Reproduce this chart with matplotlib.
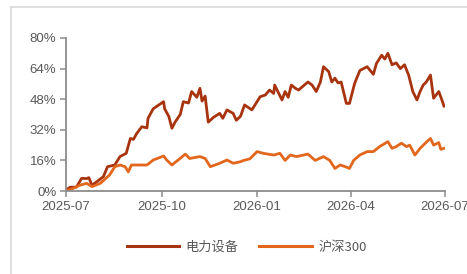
import matplotlib
matplotlib.use("Agg")
import matplotlib.pyplot as plt
import matplotlib.dates as mdates
from matplotlib.lines import Line2D
import pandas as pd

# ---- data ----
dates_a = ["2025-07-01","2025-07-05","2025-07-11","2025-07-16","2025-07-21","2025-07-23","2025-07-26",
           "2025-07-31","2025-08-06","2025-08-10","2025-08-17","2025-08-22","2025-08-28","2025-09-01",
           "2025-09-04","2025-09-07","2025-09-12","2025-09-17","2025-09-18","2025-09-23","2025-10-03",
           "2025-10-04","2025-10-08","2025-10-11","2025-10-14","2025-10-19","2025-10-22","2025-10-27",
           "2025-10-30","2025-11-04","2025-11-07","2025-11-09","2025-11-12","2025-11-15","2025-11-20",
           "2025-11-26","2025-11-29","2025-12-03","2025-12-09","2025-12-12","2025-12-16","2025-12-20",
           "2025-12-27","2026-01-04","2026-01-09","2026-01-13","2026-01-17","2026-01-18","2026-01-21",
           "2026-01-25","2026-01-28","2026-01-31","2026-02-03","2026-02-07","2026-02-10","2026-02-19",
           "2026-02-23","2026-02-27","2026-03-03","2026-03-06","2026-03-11","2026-03-14","2026-03-17",
           "2026-03-20","2026-03-23","2026-03-28","2026-03-31","2026-04-05","2026-04-10","2026-04-17",
           "2026-04-23","2026-04-26","2026-05-01","2026-05-04","2026-05-07","2026-05-11","2026-05-15",
           "2026-05-19","2026-05-23","2026-05-27","2026-05-31","2026-06-04","2026-06-07","2026-06-10",
           "2026-06-13","2026-06-17","2026-06-20","2026-06-25","2026-06-28","2026-06-30"]
power_equipment = [0.5, 2, 2, 6.6, 6.5, 7, 3,
                   5, 7.5, 12.7, 13.6, 18, 19.7, 27.5,
                   27, 30, 33.6, 33, 38, 43, 46.7,
                   43, 39, 32.8, 36, 40, 46.7, 46,
                   52, 49, 53.7, 47, 49.6, 36, 38.5,
                   40.6, 38, 42.4, 40.6, 37, 39, 45,
                   42.4, 49.3, 50.2, 52.8, 51, 55.4, 52,
                   47.6, 52, 49, 55.4, 53.7, 52.8, 57,
                   55.4, 52, 57, 65, 62.4, 57, 59,
                   56.5, 57, 45.8, 45.8, 56.3, 63, 65,
                   61, 66.7, 71, 69, 72, 66, 67,
                   64, 66, 60.6, 52, 47.6, 52, 55.4,
                   57, 60.6, 48.5, 52, 47.6, 44.4]

dates_b = ["2025-07-01","2025-07-08","2025-07-14","2025-07-21","2025-07-26","2025-08-03","2025-08-12",
           "2025-08-17","2025-08-22","2025-08-27","2025-08-30","2025-09-02","2025-09-10","2025-09-17",
           "2025-09-23","2025-10-03","2025-10-06","2025-10-11","2025-10-17","2025-10-24","2025-10-28",
           "2025-11-07","2025-11-12","2025-11-17","2025-11-26","2025-12-03","2025-12-09","2025-12-16",
           "2025-12-19","2025-12-25","2026-01-01","2026-01-07","2026-01-17","2026-01-23","2026-01-28",
           "2026-02-02","2026-02-08","2026-02-19","2026-02-26","2026-03-06","2026-03-12","2026-03-17",
           "2026-03-22","2026-03-27","2026-03-31","2026-04-04","2026-04-10","2026-04-17","2026-04-23",
           "2026-04-29","2026-05-07","2026-05-11","2026-05-15","2026-05-20","2026-05-25","2026-05-28",
           "2026-06-02","2026-06-07","2026-06-12","2026-06-17","2026-06-20","2026-06-25","2026-06-27",
           "2026-06-30"]
csi300 = [0, 1.4, 3, 4, 2.3, 4, 8.4,
          12.7, 13.6, 12.7, 10, 13.6, 13.6, 13.6,
          16.2, 18.3, 16.2, 13.6, 16.2, 19.3, 17,
          18, 17, 12.7, 14.5, 16.2, 14.5, 15.3,
          16, 16.8, 20.6, 19.7, 18.8, 19.7, 16,
          18.8, 18, 19.3, 16, 18, 16, 11.8,
          13.6, 12.7, 11.8, 16, 18.8, 20.6, 20.6,
          23.2, 25.8, 22.3, 23.2, 25, 23.2, 24,
          18.8, 22.3, 25, 27.5, 24, 25.3, 21.8,
          22.3]

series_names = ["电力设备", "沪深300"]
y_ticks = [0, 16, 32, 48, 64, 80]
x_ticks = ["2025-07-01", "2025-10-01", "2026-01-01", "2026-04-01", "2026-07-01"]

# ---- style ----
c_a = "#A8340F"
c_b = "#E2661C"
gray = "#595959"
spine = "#8C8C8C"

fig = plt.figure(figsize=(4.67, 2.74), dpi=100)
ax = fig.add_axes([66/467, 1-191/274, (445-66)/467, (191-38)/274])

ax.plot(pd.to_datetime(dates_a), power_equipment, color=c_a, lw=2.0, solid_joinstyle="round")
ax.plot(pd.to_datetime(dates_b), csi300, color=c_b, lw=2.0, solid_joinstyle="round")

ax.set_xlim(pd.Timestamp(x_ticks[0]), pd.Timestamp(x_ticks[-1]))
ax.set_ylim(0, 80)
ax.set_yticks(y_ticks)
ax.set_yticklabels([f"{v}%" for v in y_ticks])
ax.set_xticks(pd.to_datetime(x_ticks))
ax.xaxis.set_major_formatter(mdates.DateFormatter("%Y-%m"))

for s in ["top", "right"]:
    ax.spines[s].set_visible(False)
for s in ["left", "bottom"]:
    ax.spines[s].set_color(spine)
    ax.spines[s].set_linewidth(1.3)
ax.tick_params(axis="both", colors=spine, length=4, width=1.1, direction="out",
               labelsize=9.5, labelcolor=gray)
ax.tick_params(axis="y", pad=3)
ax.tick_params(axis="x", pad=3)
for lab in ax.get_xticklabels() + ax.get_yticklabels():
    lab.set_fontfamily("Liberation Sans")

handles = [Line2D([], [], color=c_a, lw=2.2), Line2D([], [], color=c_b, lw=2.2)]
leg = fig.legend(handles, series_names, loc="center", bbox_to_anchor=(0.528, 1-247/274),
                 ncol=2, frameon=False, handlelength=4.0, handletextpad=0.45,
                 columnspacing=1.6, prop={"family": ["Noto Sans CJK SC", "DejaVu Sans"], "size": 9.5})
for t in leg.get_texts():
    t.set_color(gray)

# light frame
fig.add_artist(Line2D([11/467, 11/467], [0, 1-7/274], transform=fig.transFigure, color="#D9D9D9", lw=1.2))
fig.add_artist(Line2D([11/467, 1], [1-7/274, 1-7/274], transform=fig.transFigure, color="#D9D9D9", lw=1.2))

fig.savefig("out.png", dpi=100)
